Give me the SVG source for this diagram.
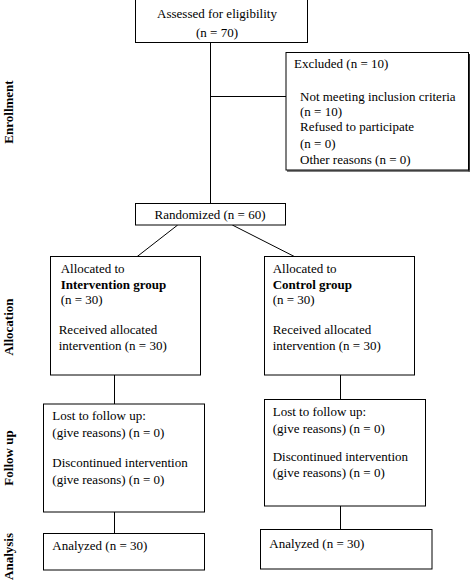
<svg xmlns="http://www.w3.org/2000/svg" width="470" height="581" viewBox="0 0 470 581">
<style>
.box{fill:#fff;stroke:#000;stroke-width:1}
.t{font-family:"Liberation Serif","Times New Roman",serif;font-size:13px;fill:#000}
.b{font-weight:bold}
.side{font-family:"Liberation Serif","Times New Roman",serif;font-size:13px;font-weight:bold;fill:#000;text-anchor:middle}
.c{text-anchor:middle}
.ln{stroke:#000;stroke-width:1;fill:none}
</style>
<rect width="470" height="581" fill="#fff"/>
<g id="connectors">
<line class="ln" x1="210.5" y1="43" x2="210.5" y2="203.5"/>
<line class="ln" x1="210.5" y1="96.5" x2="286" y2="96.5"/>
<line class="ln" x1="177.7" y1="225" x2="137" y2="256.7"/>
<line class="ln" x1="232.3" y1="225" x2="294.7" y2="256.7"/>
<line class="ln" x1="114.5" y1="375" x2="114.5" y2="404"/>
<line class="ln" x1="340.5" y1="375" x2="340.5" y2="399.5"/>
<line class="ln" x1="114.5" y1="512" x2="114.5" y2="533.5"/>
<line class="ln" x1="340.5" y1="506" x2="340.5" y2="529.5"/>
</g>
<g id="labels">
<text class="side" transform="translate(13,112) rotate(-90)">Enrollment</text>
<text class="side" transform="translate(13,327) rotate(-90)">Allocation</text>
<text class="side" transform="translate(13,458) rotate(-90)">Follow up</text>
<text class="side" transform="translate(13,556.5) rotate(-90)">Analysis</text>
</g>
<g id="assessed">
<rect class="box" x="135.5" y="-0.5" width="172" height="43"/>
<text class="t c" x="217" y="18">Assessed for eligibility</text>
<text class="t c" x="217" y="37">(n = 70)</text>
</g>
<g id="excluded">
<line x1="469" y1="54" x2="469" y2="171.5" stroke="#333" stroke-width="2"/>
<line x1="287" y1="171" x2="470" y2="171" stroke="#555" stroke-width="1.5"/>
<rect class="box" x="286" y="52.5" width="182.5" height="117.5"/>
<text class="t" x="294" y="68">Excluded (n = 10)</text>
<text class="t" x="300" y="101">Not meeting inclusion criteria</text>
<text class="t" x="300" y="116">(n = 10)</text>
<text class="t" x="300" y="131">Refused to participate</text>
<text class="t" x="300" y="148">(n = 0)</text>
<text class="t" x="300" y="164">Other reasons (n = 0)</text>
</g>
<g id="randomized">
<rect class="box" x="135.5" y="203.5" width="150" height="21.5"/>
<text class="t c" x="210" y="219">Randomized (n = 60)</text>
</g>
<g id="alloc-intervention">
<rect class="box" x="50.5" y="256.5" width="150" height="118.5"/>
<text class="t" x="60.7" y="273">Allocated to</text>
<text class="t b" x="60.7" y="289">Intervention group</text>
<text class="t" x="60.7" y="304">(n = 30)</text>
<text class="t" x="58.7" y="334">Received allocated</text>
<text class="t" x="58.7" y="350">intervention (n = 30)</text>
</g>
<g id="alloc-control">
<rect class="box" x="264.5" y="256.5" width="150" height="118.5"/>
<text class="t" x="272.7" y="273">Allocated to</text>
<text class="t b" x="272.7" y="289">Control group</text>
<text class="t" x="272.7" y="304">(n = 30)</text>
<text class="t" x="272.7" y="334">Received allocated</text>
<text class="t" x="272.7" y="350">intervention (n = 30)</text>
</g>
<g id="followup-intervention">
<rect class="box" x="43.5" y="404" width="161" height="108"/>
<text class="t" x="52.3" y="420">Lost to follow up:</text>
<text class="t" x="52.3" y="437">(give reasons) (n = 0)</text>
<text class="t" x="52.3" y="467">Discontinued intervention</text>
<text class="t" x="52.3" y="483.5">(give reasons) (n = 0)</text>
</g>
<g id="followup-control">
<rect class="box" x="264.5" y="399.5" width="161" height="106.5"/>
<text class="t" x="272.7" y="415.5">Lost to follow up:</text>
<text class="t" x="272.7" y="432.5">(give reasons) (n = 0)</text>
<text class="t" x="272.7" y="461">Discontinued intervention</text>
<text class="t" x="272.7" y="477">(give reasons) (n = 0)</text>
</g>
<g id="analysis-intervention">
<rect class="box" x="43.5" y="533.5" width="161" height="36.5"/>
<text class="t" x="52.3" y="550">Analyzed (n = 30)</text>
</g>
<g id="analysis-control">
<rect class="box" x="260.5" y="529.5" width="171.5" height="39.5"/>
<text class="t" x="269.3" y="548">Analyzed (n = 30)</text>
</g>
</svg>
